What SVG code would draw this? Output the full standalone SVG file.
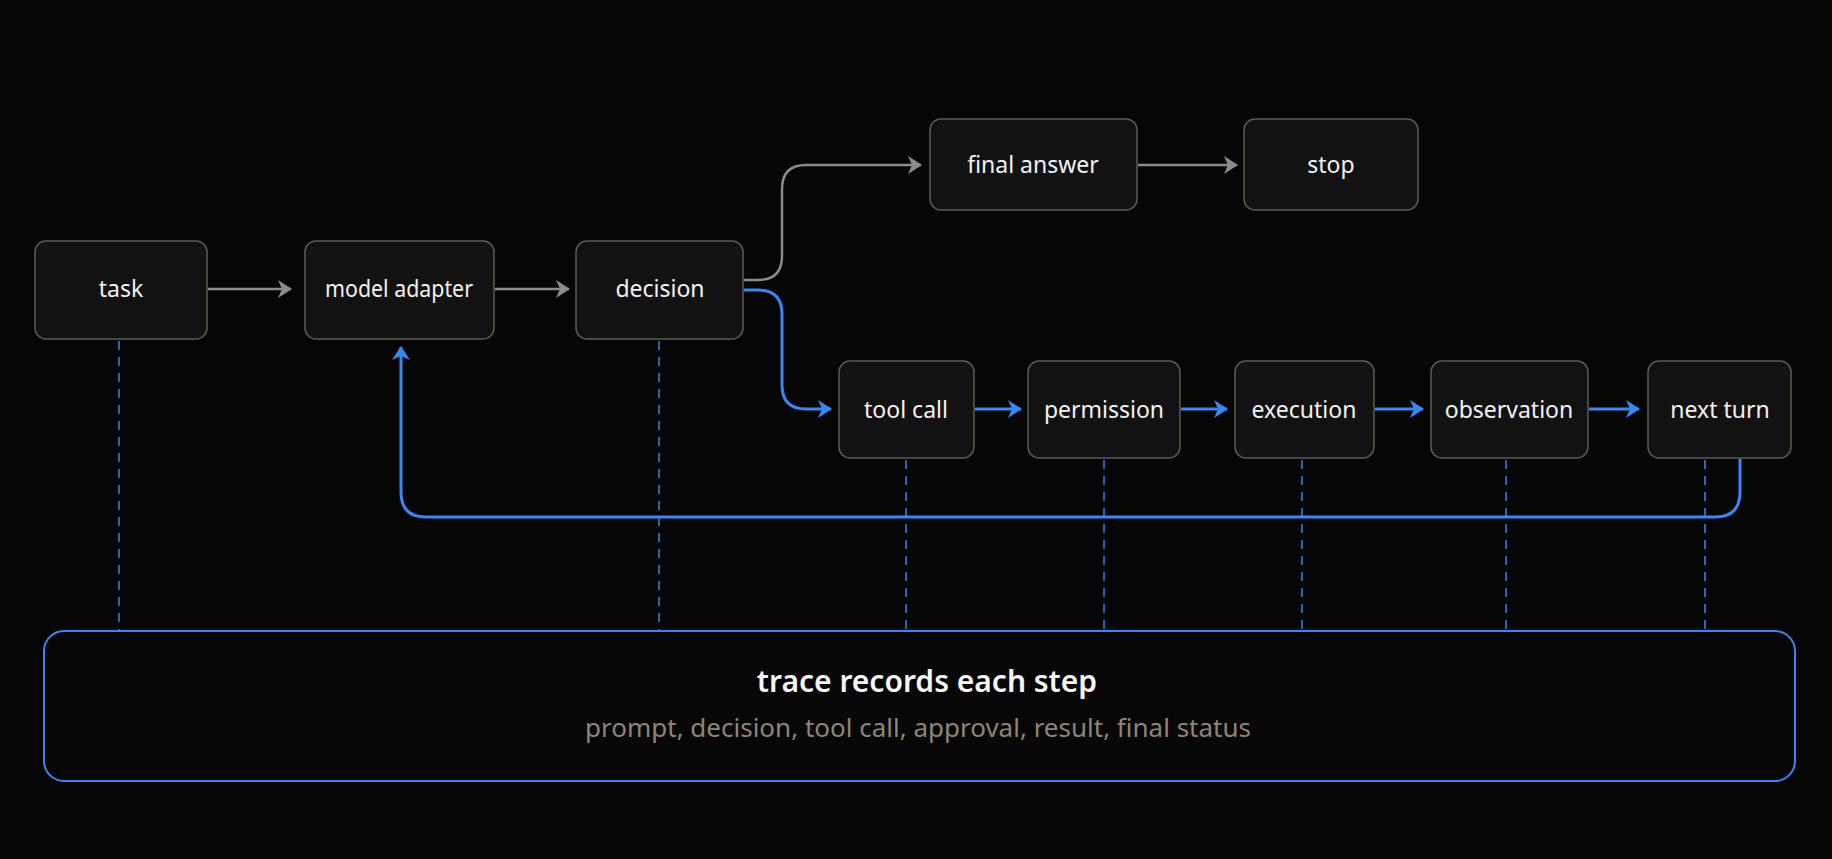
<svg xmlns="http://www.w3.org/2000/svg" width="1832" height="859" viewBox="0 0 1832 859">
<style>
.node{fill:#121212;stroke:#5f5a52;stroke-width:1.5}
.lbl{font-family:"Noto Sans","DejaVu Sans",sans-serif;font-size:23px;fill:#f2f2f2;text-anchor:middle}
.gray{fill:none;stroke:#8c8c8c;stroke-width:2.5}
.blue{fill:none;stroke:#3b86f0;stroke-width:3}
.dash{fill:none;stroke:#3b86f0;stroke-width:1.5;stroke-dasharray:9 7}
</style>
<defs>
<marker id="ag" viewBox="0 0 14 18" refX="13" refY="9" markerWidth="14" markerHeight="18" markerUnits="userSpaceOnUse" orient="auto">
<path d="M0,0 L14,9 L0,18 L4,9 Z" fill="#8c8c8c"/>
</marker>
<marker id="ab" viewBox="0 0 14 18" refX="13" refY="9" markerWidth="14" markerHeight="18" markerUnits="userSpaceOnUse" orient="auto">
<path d="M0,0 L14,9 L0,18 L4,9 Z" fill="#3b86f0"/>
</marker>
</defs>
<rect width="1832" height="859" fill="#060606"/>

<g id="connectors">
<g id="trace-links">
<path class="dash" d="M119 341 V631"/>
<path class="dash" d="M659 341 V631"/>
<path class="dash" d="M906 460 V631"/>
<path class="dash" d="M1104 460 V631"/>
<path class="dash" d="M1302 460 V631"/>
<path class="dash" d="M1506 460 V631"/>
<path class="dash" d="M1705 460 V631"/>
</g>
<path class="gray" marker-end="url(#ag)" d="M208 289 H291"/>
<path class="gray" marker-end="url(#ag)" d="M495 289 H569"/>
<path class="gray" marker-end="url(#ag)" d="M744 280 H758 Q782 280 782 256 V189 Q782 165 806 165 H921"/>
<path class="gray" marker-end="url(#ag)" d="M1138 165 H1237"/>
<path class="blue" marker-end="url(#ab)" d="M744 290 H758 Q782 290 782 314 V385 Q782 409 806 409 H831"/>
<path class="blue" marker-end="url(#ab)" d="M975 409 H1021"/>
<path class="blue" marker-end="url(#ab)" d="M1181 409 H1227"/>
<path class="blue" marker-end="url(#ab)" d="M1375 409 H1423"/>
<path class="blue" marker-end="url(#ab)" d="M1589 409 H1639"/>
<path class="blue" marker-end="url(#ab)" d="M1740 459 V492 Q1740 517 1715 517 H426 Q401 517 401 492 V347"/>
</g>

<g id="task"><rect class="node" x="35" y="241" width="172" height="98" rx="11"/><text class="lbl" x="121" y="297">task</text></g>
<g id="model-adapter"><rect class="node" x="305" y="241" width="189" height="98" rx="11"/><text class="lbl" x="399" y="297" textLength="148" lengthAdjust="spacingAndGlyphs">model adapter</text></g>
<g id="decision"><rect class="node" x="576" y="241" width="167" height="98" rx="11"/><text class="lbl" x="660" y="297">decision</text></g>
<g id="final-answer"><rect class="node" x="930" y="119" width="207" height="91" rx="11"/><text class="lbl" x="1033" y="173">final answer</text></g>
<g id="stop"><rect class="node" x="1244" y="119" width="174" height="91" rx="11"/><text class="lbl" x="1331" y="173">stop</text></g>
<g id="tool-call"><rect class="node" x="839" y="361" width="135" height="97" rx="11"/><text class="lbl" x="906" y="418">tool call</text></g>
<g id="permission"><rect class="node" x="1028" y="361" width="152" height="97" rx="11"/><text class="lbl" x="1104" y="418">permission</text></g>
<g id="execution"><rect class="node" x="1235" y="361" width="139" height="97" rx="11"/><text class="lbl" x="1304" y="418">execution</text></g>
<g id="observation"><rect class="node" x="1431" y="361" width="157" height="97" rx="11"/><text class="lbl" x="1509" y="418">observation</text></g>
<g id="next-turn"><rect class="node" x="1648" y="361" width="143" height="97" rx="11"/><text class="lbl" x="1720" y="418">next turn</text></g>

<g id="trace">
<rect x="44" y="631" width="1751" height="150" rx="20" fill="#070707" stroke="#3b86f0" stroke-width="2"/>
<text x="927" y="692" font-family="'Noto Sans','DejaVu Sans',sans-serif" font-size="30" font-weight="600" fill="#f5f5f5" text-anchor="middle">trace records each step</text>
<text x="918" y="737" font-family="'Noto Sans','DejaVu Sans',sans-serif" font-size="26" fill="#8d857a" text-anchor="middle">prompt, decision, tool call, approval, result, final status</text>
</g>
</svg>
